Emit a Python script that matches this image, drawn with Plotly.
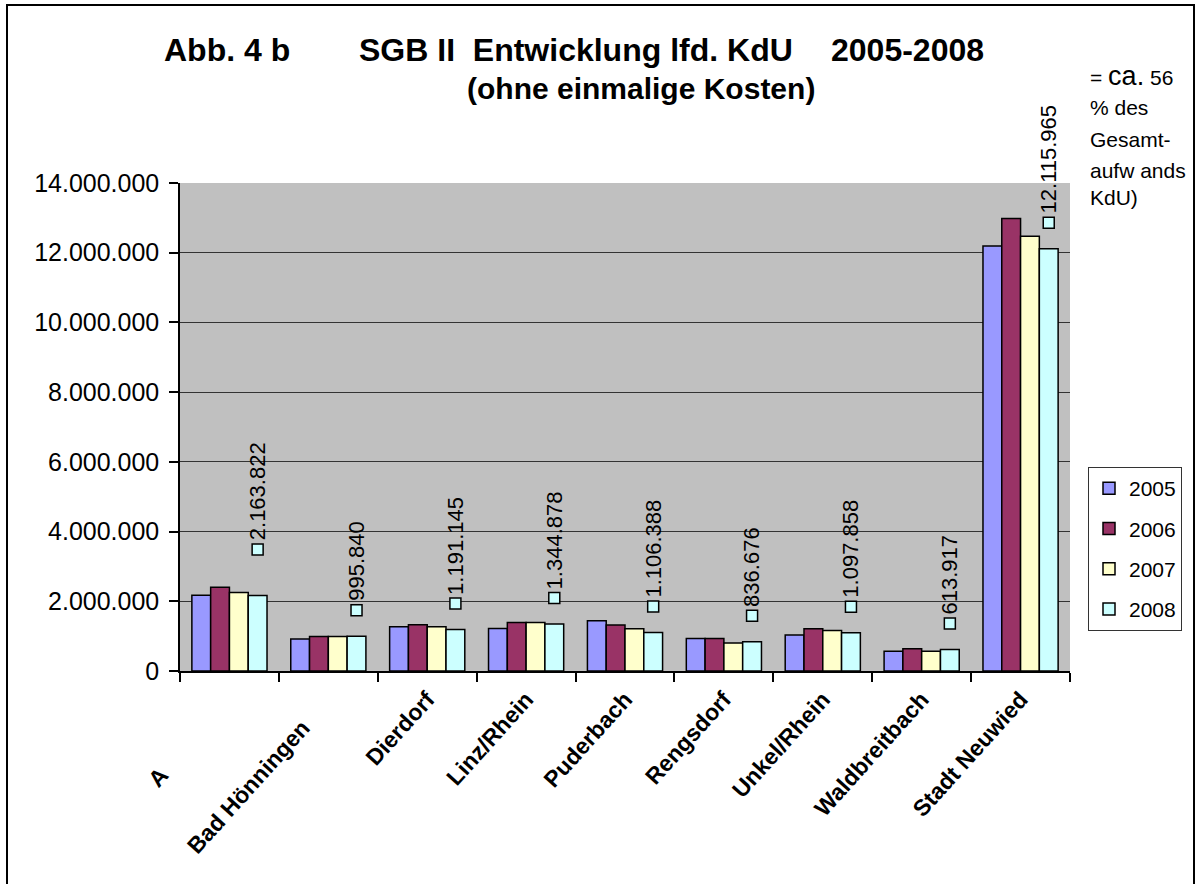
import plotly.graph_objects as go

categories = ["A" + "\u00a0" * 16, "Bad Hönningen" + "\u00a0" * 6, "Dierdorf", "Linz/Rhein", "Puderbach",
              "Rengsdorf", "Unkel/Rhein", "Waldbreitbach", "Stadt Neuwied"]
years = ["2005", "2006", "2007", "2008"]
v2005 = [2170000, 920000, 1270000, 1220000, 1440000, 930000, 1030000, 570000, 12190000]
v2006 = [2400000, 990000, 1330000, 1390000, 1320000, 930000, 1210000, 640000, 12980000]
v2007 = [2250000, 990000, 1270000, 1390000, 1210000, 800000, 1160000, 570000, 12470000]
v2008 = [2163822, 995840, 1191145, 1344878, 1106388, 836676, 1097858, 613917, 12115965]
colors = ["#9999FF", "#993366", "#FFFFCC", "#CCFFFF"]

# layout geometry (pixels)
W, H = 1196, 884
L, R, T, B = 180, 126, 183, 213
plot_w = W - L - R
plot_h = H - T - B
ymax = 14000000
bargap = 0.24
label_offset_px = [46, 26, 26, 26, 26, 26, 26, 26, 26]

fig = go.Figure()
for name, vals, col in zip(years, [v2005, v2006, v2007, v2008], colors):
    fig.add_trace(go.Bar(
        x=categories, y=vals, name=name, legendgroup=name,
        marker=dict(color=col, line=dict(color="black", width=1.5)),
    ))

# data-label keys (legend-key squares) for 2008, on a hidden numeric axis
bw = (1 - bargap) / 4
off2008 = 1.5 * bw
px_to_data = ymax / plot_h
key_x = [i + off2008 for i in range(len(categories))]
key_y = [v + o * px_to_data for v, o in zip(v2008, label_offset_px)]
fig.add_trace(go.Scatter(
    x=key_x, y=key_y, xaxis="x2", mode="markers", showlegend=False,
    marker=dict(symbol="square", size=11, color=colors[3], line=dict(color="black", width=1.5)),
    hoverinfo="skip",
))

annotations = []
for kx, ky, v in zip(key_x, key_y, v2008):
    txt = f"{v:,}".replace(",", ".")
    annotations.append(dict(
        x=kx, y=ky, xref="x2", yref="y", text=txt, showarrow=False,
        textangle=-90, xanchor="center", yanchor="bottom", yshift=7,
        font=dict(family="Arial", size=22, color="black"),
    ))

def px(xp):
    return (xp - L) / plot_w

def py(yp):
    return (H - B - yp) / plot_h

# titles
title_font = dict(family="Arial", size=32, color="black")
annotations += [
    dict(x=px(162), y=py(50), xref="paper", yref="paper", text="<b>Abb. 4 b</b>",
         showarrow=False, xanchor="left", yanchor="middle", font=title_font),
    dict(x=px(357), y=py(50), xref="paper", yref="paper", text="<b>SGB II  Entwicklung lfd. KdU</b>",
         showarrow=False, xanchor="left", yanchor="middle", font=title_font),
    dict(x=px(986), y=py(50), xref="paper", yref="paper", text="<b>2005-2008</b>",
         showarrow=False, xanchor="right", yanchor="middle", font=title_font),
    dict(x=px(641), y=py(89), xref="paper", yref="paper", text="<b>(ohne einmalige Kosten)</b>",
         showarrow=False, xanchor="center", yanchor="middle",
         font=dict(family="Arial", size=30, color="black")),
]

note_lines = ["= <span style='font-size:27px'>ca.</span> 56", "% des", "Gesamt-", "aufw ands", "KdU)"]
note_y = [76, 108, 139, 170, 198]
for t, yy in zip(note_lines, note_y):
    annotations.append(dict(x=px(1088), y=py(yy), xref="paper", yref="paper", text=t,
                            showarrow=False, xanchor="left", yanchor="middle",
                            font=dict(family="Arial", size=21, color="black")))

# outer frame
shapes = [dict(type="rect", xref="paper", yref="paper",
               x0=px(7), x1=px(1194), y0=py(900), y1=py(5),
               line=dict(color="black", width=2), fillcolor="rgba(0,0,0,0)", layer="below")]

fig.update_layout(
    width=W, height=H,
    margin=dict(l=L, r=R, t=T, b=B, autoexpand=False),
    paper_bgcolor="white", plot_bgcolor="#C0C0C0",
    barmode="group", bargap=bargap, bargroupgap=0,
    separators=",.",
    font=dict(family="Arial", color="black"),
    xaxis=dict(type="category", tickson="boundaries", ticks="outside", ticklen=9,
               tickcolor="black", tickwidth=1.5, showline=True, linecolor="black", linewidth=1.5,
               tickangle=-48, tickfont=dict(family="Arial", size=23, color="black"),
               ticklabelstandoff=4,
               showgrid=False, range=[-0.5, 8.5]),
    xaxis2=dict(overlaying="x", range=[-0.5, 8.5], visible=False),
    yaxis=dict(range=[0, ymax], dtick=2000000, tickformat=",d", ticks="outside", ticklen=9,
               tickcolor="black", tickwidth=1.5, showline=True, linecolor="black", linewidth=1.5,
               gridcolor="#333333", gridwidth=1, zeroline=False, ticklabelstandoff=5,
               tickfont=dict(family="Arial", size=25, color="black")),
    legend=dict(x=px(1088), y=py(467), xanchor="left", yanchor="top",
                bgcolor="white", bordercolor="#333333", borderwidth=1,
                font=dict(family="Arial", size=21, color="black"),
                traceorder="grouped", tracegroupgap=10, itemwidth=30),
    annotations=annotations, shapes=shapes,
)

# make tick labels bold
fig.update_xaxes(tickvals=categories, ticktext=[f"<b>{c}</b>" for c in categories])

fig.write_html("out.html", config={"displayModeBar": False},
               post_script="document.body.style.margin='0';document.body.style.overflow='hidden';")
